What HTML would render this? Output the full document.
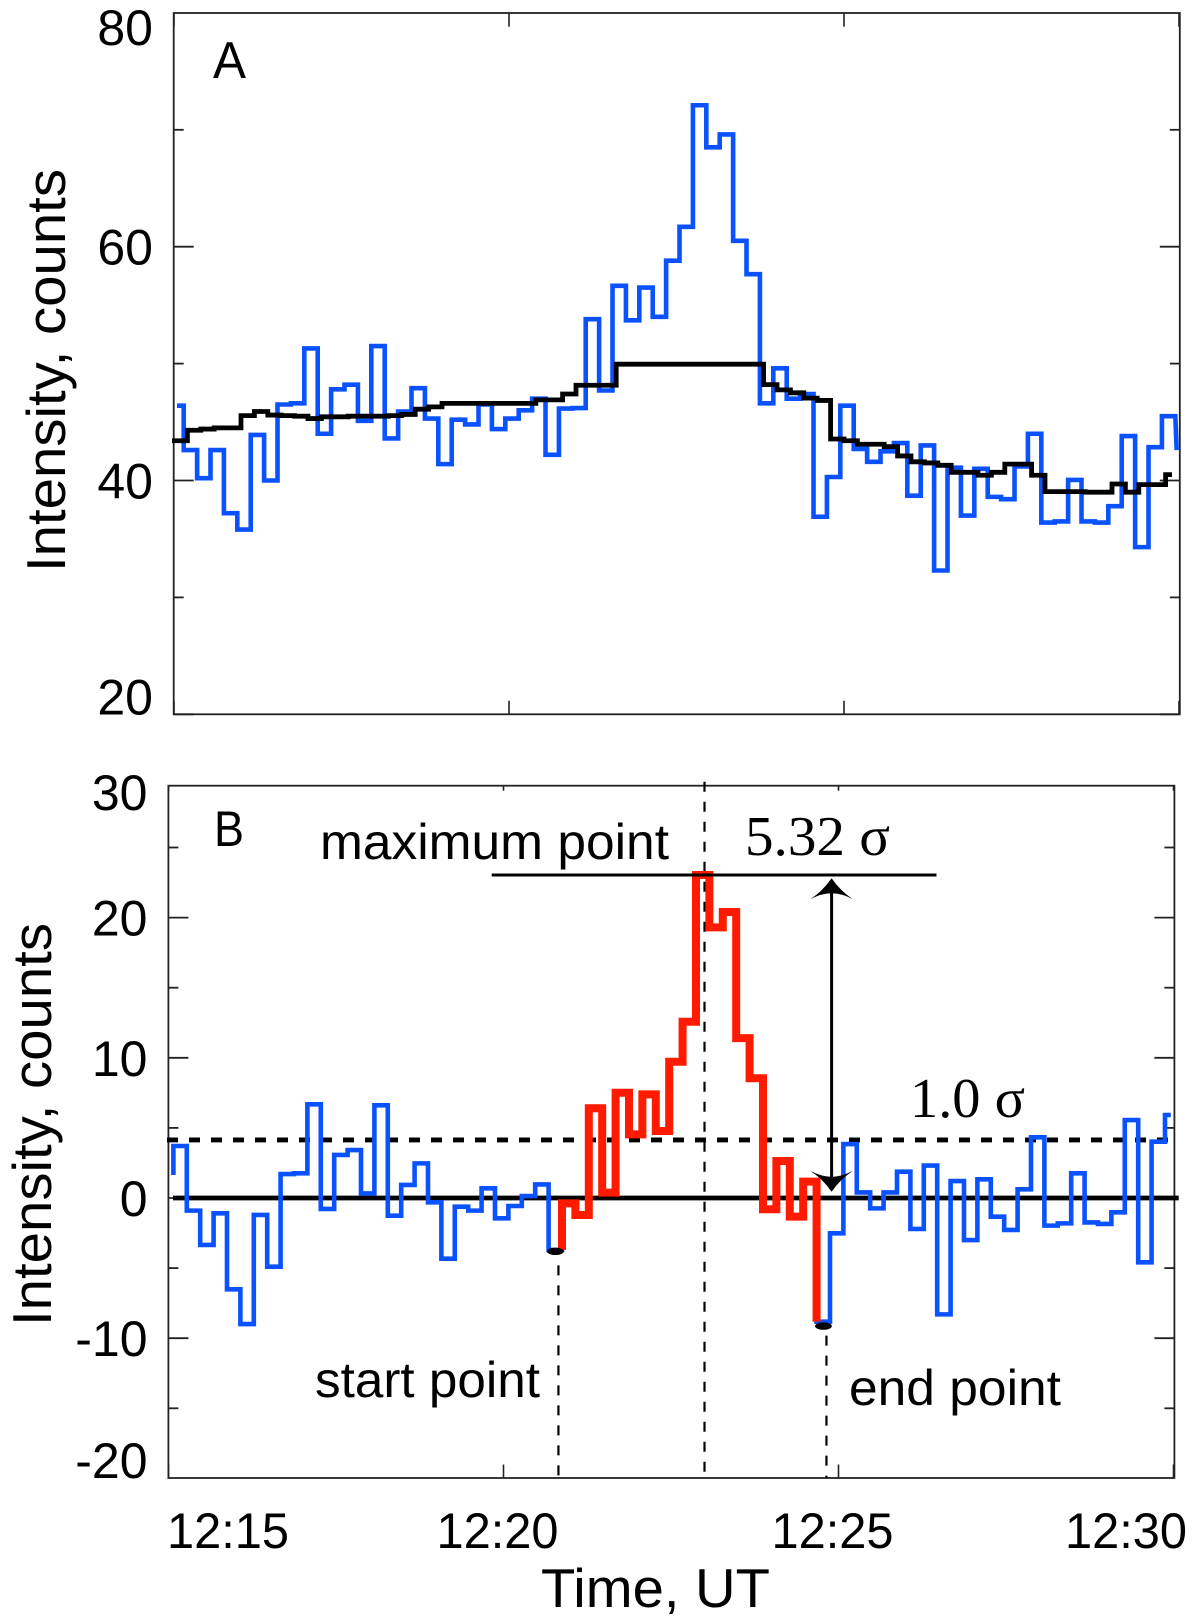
<!DOCTYPE html>
<html lang="en">
<head>
<meta charset="utf-8">
<title>Intensity vs time</title>
<style>
html,body{margin:0;padding:0;background:#fff;}
svg{display:block;}
text{font-family:"Liberation Sans",sans-serif;fill:#000;}
.serif{font-family:"Liberation Serif",serif;}
</style>
</head>
<body>
<svg id="chart" xmlns="http://www.w3.org/2000/svg" width="1200" height="1620" viewBox="0 0 1200 1620">
  <g id="panelA"></g>
  <g id="panelB"></g>
  <g id="labels">
    <text x="213" y="78" font-size="52" textLength="33" lengthAdjust="spacingAndGlyphs">A</text>
    <text x="214" y="846" font-size="50" textLength="30" lengthAdjust="spacingAndGlyphs">B</text>
    <text transform="translate(65 572) rotate(-90)" font-size="55" textLength="403" lengthAdjust="spacingAndGlyphs">Intensity, counts</text>
    <text transform="translate(51 1326) rotate(-90)" font-size="55" textLength="403" lengthAdjust="spacingAndGlyphs">Intensity, counts</text>
    <text x="541" y="1607" font-size="55" textLength="229" lengthAdjust="spacingAndGlyphs">Time, UT</text>
    <text x="320" y="859" font-size="50" textLength="349" lengthAdjust="spacingAndGlyphs">maximum point</text>
    <text class="serif" x="745" y="855" font-size="56" textLength="145" lengthAdjust="spacingAndGlyphs">5.32 σ</text>
    <text class="serif" x="910" y="1117" font-size="56" textLength="115" lengthAdjust="spacingAndGlyphs">1.0 σ</text>
    <text x="315" y="1397" font-size="50" textLength="225" lengthAdjust="spacingAndGlyphs">start point</text>
    <text x="849" y="1405" font-size="50" textLength="212" lengthAdjust="spacingAndGlyphs">end point</text>
  </g>
</svg>
<script>
// ---------- data ----------
const xTickMinutes = [0, 5, 10, 15];
const xTickLabels = ["12:15", "12:20", "12:25", "12:30"];
const yTicksA = [80, 60, 40, 20];
const yMinorTicksA = [70, 50, 30];
const yTicksB = [30, 20, 10, 0, -10, -20];
const yMinorTicksB = [25, 15, 5, -5, -15];

const countsA = [46.4,42.6,40.2,42.6,37.2,35.8,43.9,40.0,46.5,46.6,51.3,44.0,47.8,48.2,45.1,51.5,43.6,45.9,47.9,45.3,41.4,45.2,44.8,46.5,44.4,45.3,46.0,47.0,42.2,46.15,46.2,53.8,47.7,56.65,53.7,56.5,54.0,58.8,61.7,72.1,68.5,69.6,60.5,57.65,46.6,49.6,47.0,47.4,36.9,40.3,46.4,42.7,41.6,42.5,43.2,38.7,43.0,32.3,41.1,37.0,41.0,38.6,38.4,41.2,44.0,36.4,36.5,40.05,36.5,36.4,37.8,43.8,34.3,42.85,45.5];
const countsAEnd = 42.6;

const backgroundA = [43.4,44.3,44.4,44.5,44.5,45.55,45.9,45.6,45.55,45.5,45.3,45.45,45.45,45.5,45.5,45.5,45.55,45.65,46.1,46.3,46.6,46.6,46.6,46.6,46.6,46.6,46.6,46.9,46.9,47.4,48.15,48.15,48.15,49.95,49.95,49.95,49.95,49.95,49.95,49.95,49.95,49.95,49.95,49.95,48.2,47.75,47.5,47.05,46.85,43.55,43.4,43.1,43.1,42.9,42.1,41.6,41.5,41.3,40.7,40.7,40.45,40.7,41.4,41.4,40.45,39.05,39.05,39.05,39.0,39.0,39.7,39.0,39.65,39.65,40.5];

const residualB = [3.71,-0.90,-3.35,-1.09,-6.51,-8.99,-1.21,-4.90,1.71,1.76,6.68,-0.78,3.07,3.42,0.33,6.61,-1.26,0.93,2.47,-0.31,-4.33,-0.62,-0.90,0.69,-1.45,-0.57,0.14,0.97,-3.71,-0.38,-1.21,6.40,0.38,7.51,4.54,7.39,4.78,9.72,12.57,23.04,19.3,20.4,11.4,8.54,-0.8,2.64,-1.33,1.17,-8.82,-2.52,3.85,0.40,-0.74,0.40,1.88,-2.21,2.31,-8.30,1.21,-3.0,1.33,-1.33,-2.28,0.62,4.33,-1.97,-1.81,1.76,-1.74,-1.85,-1.02,5.56,-4.59,4.02,5.92];
const residualBStart = 1.64;
const eventFirstBin = 29;
const eventLastBin = 47;
const sigmaLevel = 4.14;
const peakLevel = 23.04;
const peakMinute = 8.0;
const startMinute = 5.82;
const endMinute = 9.82;
const arrowMinute = 9.9;
const startPointValue = -3.95;
const endPointValue = -9.1;

// ---------- axis functions ----------
const binMinutes = 0.2;
const NS = "http://www.w3.org/2000/svg";
const xA = m => 174 + 67 * m;
const yA = v => 714.3 - (v - 20) * 11.69;
const xB = m => 168.5 + 67 * m;
const yB = v => 1198 - 14.02 * v;
const clamp = (v, lo, hi) => Math.min(hi, Math.max(lo, v));

function make(parent, tag, attrs, text) {
  const el = document.createElementNS(NS, tag);
  for (const k in attrs) el.setAttribute(k, attrs[k]);
  if (text !== undefined) el.textContent = text;
  parent.appendChild(el);
  return el;
}

// step-histogram path: bins start at firstEdge and are binMinutes wide
function stepPath(values, firstEdge, xf, yf, startMin, endMin, startV, endV) {
  let d = "M" + xf(startMin).toFixed(2) + " " + yf(startV === undefined ? values[0] : startV).toFixed(2);
  values.forEach((v, i) => {
    const left = Math.max(firstEdge + i * binMinutes, startMin);
    const right = Math.min(firstEdge + (i + 1) * binMinutes, endMin);
    d += "L" + xf(left).toFixed(2) + " " + yf(v).toFixed(2);
    d += "L" + xf(right).toFixed(2) + " " + yf(v).toFixed(2);
  });
  if (endV !== undefined) d += "L" + xf(endMin).toFixed(2) + " " + yf(endV).toFixed(2);
  return d;
}

function drawFrame(g, box, xf, yf, ticks, minor, labelTopPad, topTickLen) {
  const frame = make(g, "rect", {x: box.l, y: box.t, width: box.r - box.l, height: box.b - box.t, fill: "none", stroke: "#222", "stroke-width": 1.8});
  
  
  ticks.forEach(v => {
    const y = yf(v);
    if (y >= box.t && y <= box.b) {
      const l = make(g, "line", {x1: box.l, x2: box.l + 20, y1: y, y2: y, stroke: "#222", "stroke-width": 1.8});
      
      
      const r = make(g, "line", {x1: box.r, x2: box.r - 20, y1: y, y2: y, stroke: "#222", "stroke-width": 1.8});
      
      
    }
    const t = make(g, "text", {x: box.labelRight, y: clamp(y + 18, box.t + labelTopPad, box.b), "font-size": 50, "text-anchor": "end"}, String(v));
    
    
  });
  minor.forEach(v => {
    const y = yf(v);
    const l = make(g, "line", {x1: box.l, x2: box.l + 10, y1: y, y2: y, stroke: "#222", "stroke-width": 1.8});
    
    
    const r = make(g, "line", {x1: box.r, x2: box.r - 10, y1: y, y2: y, stroke: "#222", "stroke-width": 1.8});
    
    
  });
  xTickMinutes.forEach(m => {
    const x = xf(m);
    const top = make(g, "line", {x1: x, x2: x, y1: box.t, y2: box.t + topTickLen, stroke: "#222", "stroke-width": 1.6});
    
    
    const bot = make(g, "line", {x1: x, x2: x, y1: box.b, y2: box.b - 13.5, stroke: "#222", "stroke-width": 1.6});
    
    
  });
}

// ---------- panel A ----------
const gA = document.getElementById("panelA");
drawFrame(gA, {l: 173.7, r: 1179.8, t: 13, b: 714.3, labelRight: 153}, xA, yA, yTicksA, yMinorTicksA, 32, 13.7);

const blueA = make(gA, "path", {d: stepPath(countsA, -0.055, xA, yA, 0.045, 14.965, undefined, countsAEnd), fill: "none", stroke: "#0a52ff", "stroke-width": 4.6});



const blackA = make(gA, "path", {d: stepPath(backgroundA, 0, xA, yA, -0.03, 14.895), fill: "none", stroke: "#000", "stroke-width": 4.8});



// ---------- panel B ----------
const gB = document.getElementById("panelB");
drawFrame(gB, {l: 168.4, r: 1174.4, t: 785.7, b: 1478, labelRight: 147.5}, xB, yB, yTicksB, yMinorTicksB, 24.5, 5);

const zeroLine = make(gB, "line", {x1: 173, x2: 1178.7, y1: yB(0), y2: yB(0), stroke: "#000", "stroke-width": 4.8});



const sigmaLine = make(gB, "line", {x1: 167, x2: 1170, y1: yB(sigmaLevel), y2: yB(sigmaLevel), stroke: "#000", "stroke-width": 4.8, "stroke-dasharray": "11 11"});



const peakGuide = make(gB, "line", {x1: xB(peakMinute), x2: xB(peakMinute), y1: 781.7, y2: 1478, stroke: "#000", "stroke-width": 2.2, "stroke-dasharray": "10 10"});



const startGuide = make(gB, "line", {x1: xB(startMinute), x2: xB(startMinute), y1: yB(startPointValue) + 12, y2: 1478, stroke: "#000", "stroke-width": 2.2, "stroke-dasharray": "10 10"});



const endGuide = make(gB, "line", {x1: xB(endMinute), x2: xB(endMinute), y1: yB(endPointValue) + 10, y2: 1478, stroke: "#000", "stroke-width": 2.2, "stroke-dasharray": "10 10"});



const firstEdgeB = 0.073;
const blueB = make(gB, "path", {d: stepPath(residualB, firstEdgeB, xB, yB, firstEdgeB, 14.96, residualBStart), fill: "none", stroke: "#0a52ff", "stroke-width": 4.6});



const eventValues = residualB.slice(eventFirstBin, eventLastBin + 1);
const eventEdge = firstEdgeB + eventFirstBin * binMinutes;
const eventEnd = firstEdgeB + (eventLastBin + 1) * binMinutes;
const redB = make(gB, "path", {d: stepPath(eventValues, eventEdge, xB, yB, eventEdge, eventEnd, residualB[eventFirstBin - 1], residualB[eventLastBin + 1]), fill: "none", stroke: "#ff1a00", "stroke-width": 8});



const peakLine = make(gB, "line", {x1: 491.7, x2: 936.5, y1: yB(peakLevel), y2: yB(peakLevel), stroke: "#000", "stroke-width": 3});



const ax = xB(arrowMinute) - 0.2;
const yUp = yB(peakLevel) + 3.3;
const yDown = yB(0) - 6.3;
const shaft = make(gB, "line", {x1: ax, x2: ax, y1: yUp + 12, y2: yDown - 12, stroke: "#000", "stroke-width": 3});



const headUp = make(gB, "path", {d: `M${ax} ${yUp}Q${ax + 9} ${yUp + 13} ${ax + 21.5} ${yUp + 21}Q${ax + 10} ${yUp + 15} ${ax} ${yUp + 15}Q${ax - 10} ${yUp + 15} ${ax - 21.5} ${yUp + 21}Q${ax - 9} ${yUp + 13} ${ax} ${yUp}Z`, fill: "#000"});



const headDown = make(gB, "path", {d: `M${ax} ${yDown}Q${ax + 9} ${yDown - 13} ${ax + 21.5} ${yDown - 21}Q${ax + 10} ${yDown - 15} ${ax} ${yDown - 15}Q${ax - 10} ${yDown - 15} ${ax - 21.5} ${yDown - 21}Q${ax - 9} ${yDown - 13} ${ax} ${yDown}Z`, fill: "#000"});



const startDot = make(gB, "ellipse", {cx: xB(startMinute) - 3, cy: yB(startPointValue) - 2, rx: 8.4, ry: 3.7, fill: "#000"});



const endDot = make(gB, "ellipse", {cx: xB(endMinute) - 3, cy: yB(endPointValue) + 0.5, rx: 8.4, ry: 3.7, fill: "#000"});



xTickMinutes.forEach((m, i) => {
  const label = make(gB, "text", {x: clamp(xB(m) - 6, 228, 1126), y: 1548, "font-size": 50, "text-anchor": "middle", textLength: 122, lengthAdjust: "spacingAndGlyphs"}, xTickLabels[i]);
  
  
});
</script>
</body>
</html>
